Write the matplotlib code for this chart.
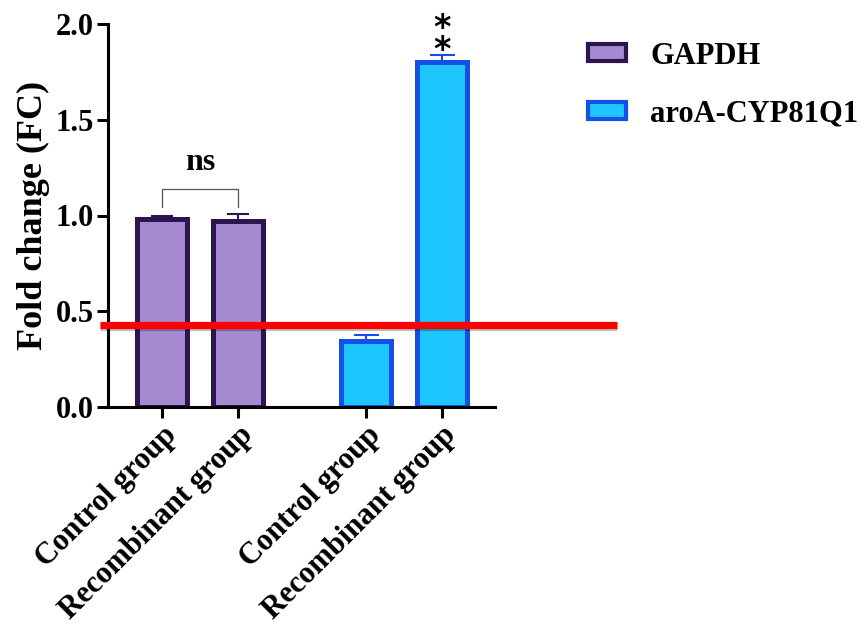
import matplotlib.pyplot as plt
import matplotlib.patheffects as pe
from matplotlib.patches import Patch

plt.rcParams['font.family'] = ['Liberation Serif', 'DejaVu Serif']
plt.rcParams['font.weight'] = 'bold'

# data
groups = ['GAPDH', 'aroA-CYP81Q1']
tick_labels = ['Control group', 'Recombinant group', 'Control group', 'Recombinant group']
positions = [0, 1, 2.68, 3.68]
gapdh_means = [0.98, 0.97]
gapdh_err = [0.02, 0.04]
aro_means = [0.345, 1.80]
aro_err = [0.03, 0.04]
cutoff = 0.428

fig = plt.figure(figsize=(8.64, 6.25), dpi=100)
ax = fig.add_axes([108 / 864, 1 - 407 / 625, (495 - 108) / 864, (407 - 24) / 625])

width = 0.66
ax.bar(positions[:2], gapdh_means, width=width, color='#A48AD0', edgecolor='#2D1650',
       linewidth=3.6, zorder=2)
ax.errorbar(positions[:2], gapdh_means, yerr=[[0, 0], gapdh_err], fmt='none',
            ecolor='#2D1650', elinewidth=1.5, capsize=8, capthick=1.5, zorder=3)
ax.bar(positions[2:], aro_means, width=width, color='#1EC6FF', edgecolor='#1450E6',
       linewidth=3.6, zorder=2)
ax.errorbar(positions[2:], aro_means, yerr=[[0, 0], aro_err], fmt='none',
            ecolor='#1450E6', elinewidth=1.5, capsize=9, capthick=1.5, zorder=3)

# red threshold line running past the axes
ax.plot([-0.82, 5.98], [cutoff, cutoff], color='#FF0000', lw=5.2, clip_on=False, zorder=5,
        solid_capstyle='butt',
        path_effects=[pe.SimpleLineShadow(offset=(0.5, -1.5), alpha=0.25), pe.Normal()])

# significance marks
ax.plot([0, 0, 1, 1], [1.045, 1.14, 1.14, 1.045], color='#555555', lw=0.9, zorder=4)
ax.text(0.5, 1.2, 'ns', ha='center', va='bottom', fontsize=23, fontweight='bold')
ax.text(3.68, 1.92, '*\n*', ha='center', va='center', fontsize=24, linespacing=0.6,
        family='DejaVu Sans', fontweight='bold', clip_on=False)

ax.set_xlim(-0.71, 4.38)
ax.set_ylim(0, 2.0)
ax.set_yticks([0, 0.5, 1.0, 1.5, 2.0])
ax.set_yticklabels(['0.0', '0.5', '1.0', '1.5', '2.0'], fontsize=22, fontweight='bold')
ax.set_xticks(positions)
ax.set_xticklabels(tick_labels, rotation=45, ha='right', rotation_mode='anchor',
                   fontsize=22, fontweight='bold')
ax.set_ylabel('Fold change (FC)', fontsize=26, fontweight='bold', labelpad=4)

for side in ['top', 'right']:
    ax.spines[side].set_visible(False)
for side in ['left', 'bottom']:
    ax.spines[side].set_linewidth(2.2)
ax.tick_params(width=2.2, length=8, pad=2)

handles = [Patch(facecolor='#A48AD0', edgecolor='#2D1650', linewidth=3),
           Patch(facecolor='#1EC6FF', edgecolor='#1450E6', linewidth=3)]
fig.legend(handles, groups, loc='upper left', bbox_to_anchor=(560 / 864, 1 - 14 / 625),
           frameon=False, prop={'size': 22, 'weight': 'bold'}, handlelength=1.25,
           handleheight=0.45, labelspacing=0.95, handletextpad=0.8)

plt.savefig('out.png', dpi=100)
